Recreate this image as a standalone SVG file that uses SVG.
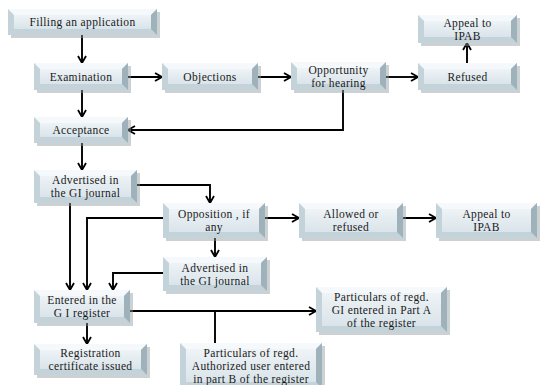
<svg xmlns="http://www.w3.org/2000/svg" width="541" height="385" viewBox="0 0 541 385">
<defs>
<linearGradient id="face" x1="0" y1="0" x2="0" y2="1">
<stop offset="0" stop-color="#eef3f6"/>
<stop offset="1" stop-color="#d9e4ea"/>
</linearGradient>
<marker id="ah" viewBox="0 0 10 10" refX="8.5" refY="5" markerWidth="10" markerHeight="10" markerUnits="userSpaceOnUse" orient="auto">
<path d="M1.5,1 L8.5,5 L1.5,9" fill="none" stroke="#000" stroke-width="1.8"/>
</marker>
<style>
.sh{fill:#8f999e;opacity:0.45}
.bs{fill:#c4d2d9}
.bt{fill:#f6f9fb}
.br{fill:#9fb1ba}
.fc{fill:url(#face)}
text{font-family:"Liberation Serif","Times New Roman",serif;font-size:11.5px;letter-spacing:0.35px;fill:#1a1a1a;text-anchor:middle}
.cn path{fill:none;stroke:#000;stroke-width:1.9}
</style>
</defs>
<rect width="541" height="385" fill="#fff"/>
<g class="cn">
<path d="M82,35 V63" marker-end="url(#ah)"/>
<path d="M128,77 H162" marker-end="url(#ah)"/>
<path d="M258,77 H291" marker-end="url(#ah)"/>
<path d="M386,77 H418" marker-end="url(#ah)"/>
<path d="M467,63 V43" marker-end="url(#ah)"/>
<path d="M82,90 V117" marker-end="url(#ah)"/>
<path d="M343,90 V130 H128" marker-end="url(#ah)"/>
<path d="M82,143 V170" marker-end="url(#ah)"/>
<path d="M137,185 H210 V203" marker-end="url(#ah)"/>
<path d="M70,203 V290" marker-end="url(#ah)"/>
<path d="M163,218 H87 V290" marker-end="url(#ah)"/>
<path d="M265,218 H299" marker-end="url(#ah)"/>
<path d="M403,218 H436" marker-end="url(#ah)"/>
<path d="M215,238 V257" marker-end="url(#ah)"/>
<path d="M163,273 H113 V290" marker-end="url(#ah)"/>
<path d="M130,311 H316" marker-end="url(#ah)"/>
<path d="M215,311 V343"/>
<path d="M87,323 V344" marker-end="url(#ah)"/>
</g>
<g id="n-filling" transform="translate(8,9)">
<rect class="sh" x="3" y="3" width="149" height="26"/><rect class="bs" width="149" height="26"/>
<polygon class="bt" points="0,0 149,0 143,6 6,6"/><polygon class="br" points="149,0 149,26 143,20 143,6"/>
<rect class="fc" x="6" y="6" width="137" height="14"/>
<text x="74.5" y="17">Filling an application</text>
</g>
<g id="n-exam" transform="translate(34,63)">
<rect class="sh" x="3" y="3" width="94" height="27"/><rect class="bs" width="94" height="27"/>
<polygon class="bt" points="0,0 94,0 88,6 6,6"/><polygon class="br" points="94,0 94,27 88,21 88,6"/>
<rect class="fc" x="6" y="6" width="82" height="15"/>
<text x="47" y="17.5">Examination</text>
</g>
<g id="n-obj" transform="translate(162,63)">
<rect class="sh" x="3" y="3" width="96" height="27"/><rect class="bs" width="96" height="27"/>
<polygon class="bt" points="0,0 96,0 90,6 6,6"/><polygon class="br" points="96,0 96,27 90,21 90,6"/>
<rect class="fc" x="6" y="6" width="84" height="15"/>
<text x="48" y="17.5">Objections</text>
</g>
<g id="n-opp" transform="translate(291,62)">
<rect class="sh" x="3" y="3" width="95" height="28"/><rect class="bs" width="95" height="28"/>
<polygon class="bt" points="0,0 95,0 89,6 6,6"/><polygon class="br" points="95,0 95,28 89,22 89,6"/>
<rect class="fc" x="6" y="6" width="83" height="16"/>
<text x="47.5" y="11.5">Opportunity</text><text x="47.5" y="24.5">for hearing</text>
</g>
<g id="n-refused" transform="translate(418,63)">
<rect class="sh" x="3" y="3" width="99" height="27"/><rect class="bs" width="99" height="27"/>
<polygon class="bt" points="0,0 99,0 93,6 6,6"/><polygon class="br" points="99,0 99,27 93,21 93,6"/>
<rect class="fc" x="6" y="6" width="87" height="15"/>
<text x="49.5" y="17.5">Refused</text>
</g>
<g id="n-appeal1" transform="translate(418,15)">
<rect class="sh" x="3" y="3" width="99" height="28"/><rect class="bs" width="99" height="28"/>
<polygon class="bt" points="0,0 99,0 93,6 6,6"/><polygon class="br" points="99,0 99,28 93,22 93,6"/>
<rect class="fc" x="6" y="6" width="87" height="16"/>
<text x="49.5" y="11.5">Appeal to</text><text x="49.5" y="24.5">IPAB</text>
</g>
<g id="n-accept" transform="translate(34,117)">
<rect class="sh" x="3" y="3" width="94" height="26"/><rect class="bs" width="94" height="26"/>
<polygon class="bt" points="0,0 94,0 88,6 6,6"/><polygon class="br" points="94,0 94,26 88,20 88,6"/>
<rect class="fc" x="6" y="6" width="82" height="14"/>
<text x="47" y="17">Acceptance</text>
</g>
<g id="n-adv1" transform="translate(34,170)">
<rect class="sh" x="3" y="3" width="103" height="33"/><rect class="bs" width="103" height="33"/>
<polygon class="bt" points="0,0 103,0 97,6 6,6"/><polygon class="br" points="103,0 103,33 97,27 97,6"/>
<rect class="fc" x="6" y="6" width="91" height="21"/>
<text x="51.5" y="14">Advertised in</text><text x="51.5" y="27">the GI journal</text>
</g>
<g id="n-opposition" transform="translate(163,203)">
<rect class="sh" x="3" y="3" width="102" height="35"/><rect class="bs" width="102" height="35"/>
<polygon class="bt" points="0,0 102,0 96,6 6,6"/><polygon class="br" points="102,0 102,35 96,29 96,6"/>
<rect class="fc" x="6" y="6" width="90" height="23"/>
<text x="51" y="15">Opposition ,  if</text><text x="51" y="28">any</text>
</g>
<g id="n-allowed" transform="translate(299,203)">
<rect class="sh" x="3" y="3" width="104" height="35"/><rect class="bs" width="104" height="35"/>
<polygon class="bt" points="0,0 104,0 98,6 6,6"/><polygon class="br" points="104,0 104,35 98,29 98,6"/>
<rect class="fc" x="6" y="6" width="92" height="23"/>
<text x="52" y="15">Allowed or</text><text x="52" y="28">refused</text>
</g>
<g id="n-appeal2" transform="translate(436,203)">
<rect class="sh" x="3" y="3" width="101" height="35"/><rect class="bs" width="101" height="35"/>
<polygon class="bt" points="0,0 101,0 95,6 6,6"/><polygon class="br" points="101,0 101,35 95,29 95,6"/>
<rect class="fc" x="6" y="6" width="89" height="23"/>
<text x="50.5" y="15">Appeal to</text><text x="50.5" y="28">IPAB</text>
</g>
<g id="n-adv2" transform="translate(163,257)">
<rect class="sh" x="3" y="3" width="104" height="34"/><rect class="bs" width="104" height="34"/>
<polygon class="bt" points="0,0 104,0 98,6 6,6"/><polygon class="br" points="104,0 104,34 98,28 98,6"/>
<rect class="fc" x="6" y="6" width="92" height="22"/>
<text x="52" y="14.5">Advertised in</text><text x="52" y="27.5">the GI journal</text>
</g>
<g id="n-entered" transform="translate(34,290)">
<rect class="sh" x="3" y="3" width="96" height="33"/><rect class="bs" width="96" height="33"/>
<polygon class="bt" points="0,0 96,0 90,6 6,6"/><polygon class="br" points="96,0 96,33 90,27 90,6"/>
<rect class="fc" x="6" y="6" width="84" height="21"/>
<text x="48" y="14">Entered in the</text><text x="48" y="27">G I register</text>
</g>
<g id="n-reg" transform="translate(34,344)">
<rect class="sh" x="3" y="3" width="113" height="31"/><rect class="bs" width="113" height="31"/>
<polygon class="bt" points="0,0 113,0 107,6 6,6"/><polygon class="br" points="113,0 113,31 107,25 107,6"/>
<rect class="fc" x="6" y="6" width="101" height="19"/>
<text x="56.5" y="13">Registration</text><text x="56.5" y="26">certificate issued</text>
</g>
<g id="n-partA" transform="translate(316,287)">
<rect class="sh" x="3" y="3" width="131" height="45"/><rect class="bs" width="131" height="45"/>
<polygon class="bt" points="0,0 131,0 125,6 6,6"/><polygon class="br" points="131,0 131,45 125,39 125,6"/>
<rect class="fc" x="6" y="6" width="119" height="33"/>
<text x="65.5" y="13.5">Particulars of regd.</text><text x="65.5" y="26.5">GI entered in Part A</text><text x="65.5" y="39.5">of the register</text>
</g>
<g id="n-partB" transform="translate(180,343)">
<rect class="sh" x="3" y="3" width="142" height="45"/><rect class="bs" width="142" height="45"/>
<polygon class="bt" points="0,0 142,0 136,6 6,6"/><polygon class="br" points="142,0 142,45 136,39 136,6"/>
<rect class="fc" x="6" y="6" width="130" height="33"/>
<text x="71" y="14">Particulars of regd.</text><text x="71" y="27">Authorized user entered</text><text x="71" y="40">in part B of the register</text>
</g>
</svg>
